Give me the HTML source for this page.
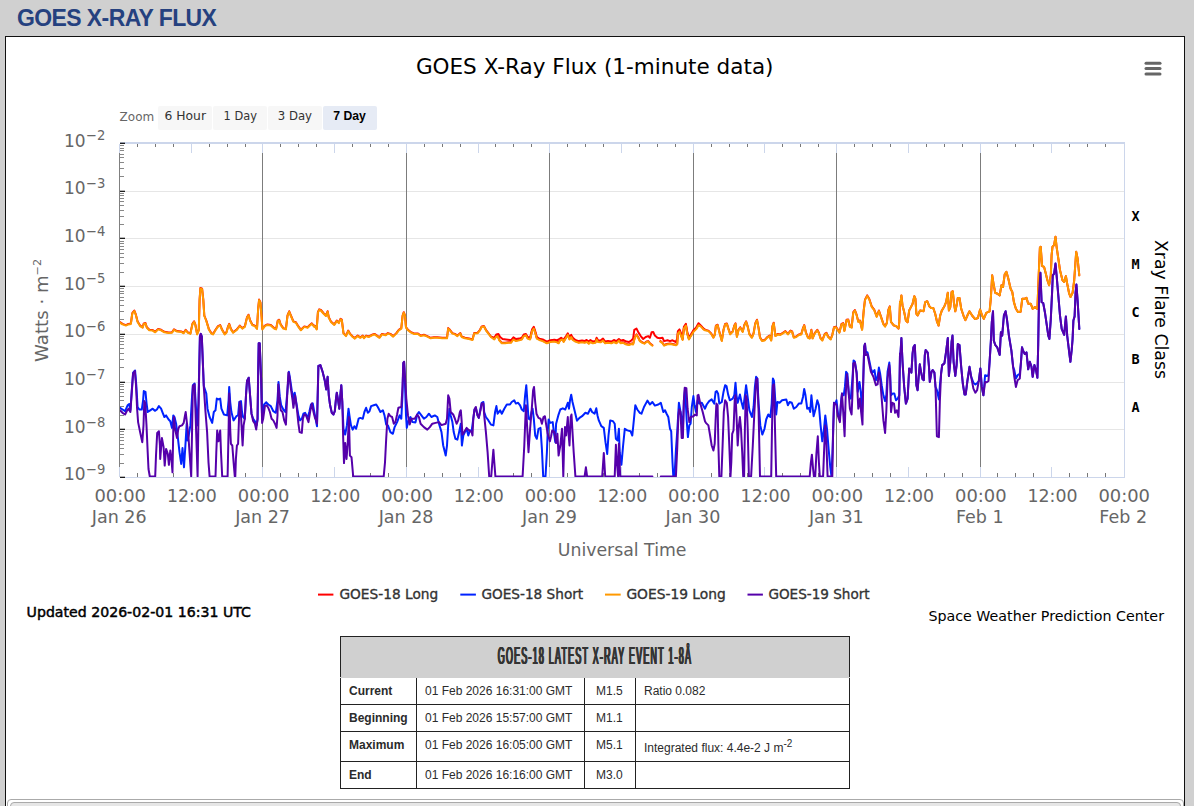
<!DOCTYPE html>
<html lang="en"><head><meta charset="utf-8"><title>GOES X-Ray Flux</title>
<style>
html,body{margin:0;padding:0;}
body{width:1194px;height:806px;overflow:hidden;background:#d0d0d0;position:relative;font-family:"Liberation Sans",Arial,sans-serif;}
h1{position:absolute;left:17px;top:3px;margin:0;font-size:23px;line-height:30px;font-weight:bold;color:#25417f;letter-spacing:-0.6px;white-space:nowrap;}
#panel{position:absolute;left:5px;top:36px;width:1178px;height:800px;background:#fff;border:1px solid #111;}
#tabs{position:absolute;left:6.5px;top:799px;width:1175px;height:40px;border:1px solid #aaa;border-radius:4px;background:#fff;}
#tabs div{position:absolute;left:2px;top:2px;right:2px;height:30px;border:1px solid #aaa;border-radius:4px;background:#e6e6e6;}
table{position:absolute;left:340px;top:636px;width:509px;border-collapse:collapse;font-size:12px;color:#2b2b2b;table-layout:fixed;}
th{position:relative;height:40px;background:#d0d0d0;border:1px solid #222;border-bottom:1px solid #d0d0d0;padding:0;}
th span{position:absolute;left:50%;top:5px;margin-left:0.2px;font-size:23.8px;line-height:28px;font-weight:normal;color:#333;letter-spacing:3.4px;text-shadow:0.8px 0 0 #333,-0.8px 0 0 #333,1.6px 0 0 #333,-1.6px 0 0 #333;transform:translateX(-50%) scaleX(0.372);transform-origin:50% 50%;white-space:nowrap;}
td{border:1px solid #222;padding:6px 0 0 8px;vertical-align:top;white-space:nowrap;line-height:14px;}
td.b{font-weight:bold;}
sup{font-size:10px;line-height:0;}
</style></head><body>
<h1>GOES X-RAY FLUX</h1>
<div id="panel"></div>
<svg width="1194" height="806" viewBox="0 0 1194 806" style="position:absolute;left:0;top:0;font-family:'DejaVu Sans','Liberation Sans',sans-serif">
<text x="594.7" y="73.7" text-anchor="middle" font-size="21.7" fill="#000" textLength="357.6" lengthAdjust="spacingAndGlyphs">GOES X-Ray Flux (1-minute data)</text>
<line x1="1146" y1="63.2" x2="1160" y2="63.2" stroke="#666" stroke-width="3" stroke-linecap="round"/>
<line x1="1146" y1="68.6" x2="1160" y2="68.6" stroke="#666" stroke-width="3" stroke-linecap="round"/>
<line x1="1146" y1="74.0" x2="1160" y2="74.0" stroke="#666" stroke-width="3" stroke-linecap="round"/>
<text x="119.6" y="120.8" font-size="13" fill="#666" textLength="34.6" lengthAdjust="spacingAndGlyphs">Zoom</text>
<rect x="158" y="106" width="54" height="24" rx="2" fill="#f7f7f7"/>
<text x="164.5" y="119.8" font-size="13" fill="#333"  textLength="41.5" lengthAdjust="spacingAndGlyphs">6 Hour</text>
<rect x="213" y="106" width="54" height="24" rx="2" fill="#f7f7f7"/>
<text x="223.6" y="119.8" font-size="13" fill="#333"  textLength="33.3" lengthAdjust="spacingAndGlyphs">1 Day</text>
<rect x="268" y="106" width="54" height="24" rx="2" fill="#f7f7f7"/>
<text x="277.8" y="119.8" font-size="13" fill="#333"  textLength="34.2" lengthAdjust="spacingAndGlyphs">3 Day</text>
<rect x="323" y="106" width="54" height="24" rx="2" fill="#e6ebf5"/>
<text x="333.3" y="119.8" font-size="12.8" fill="#000" font-weight="bold" font-family="Liberation Sans,sans-serif" textLength="32.6" lengthAdjust="spacingAndGlyphs">7 Day</text>
<line x1="120" y1="191.5" x2="1124" y2="191.5" stroke="#e6e6e6" stroke-width="1"/>
<line x1="120" y1="238.5" x2="1124" y2="238.5" stroke="#e6e6e6" stroke-width="1"/>
<line x1="120" y1="286.5" x2="1124" y2="286.5" stroke="#e6e6e6" stroke-width="1"/>
<line x1="120" y1="334.5" x2="1124" y2="334.5" stroke="#e6e6e6" stroke-width="1"/>
<line x1="120" y1="382.5" x2="1124" y2="382.5" stroke="#e6e6e6" stroke-width="1"/>
<line x1="120" y1="429.5" x2="1124" y2="429.5" stroke="#e6e6e6" stroke-width="1"/>
<line x1="1124.5" y1="143" x2="1124.5" y2="477" stroke="#ccd6eb" stroke-width="1"/>
<line x1="262.5" y1="153" x2="262.5" y2="467" stroke="#7c7c7c" stroke-width="1"/>
<line x1="406.5" y1="153" x2="406.5" y2="467" stroke="#7c7c7c" stroke-width="1"/>
<line x1="549.5" y1="153" x2="549.5" y2="467" stroke="#7c7c7c" stroke-width="1"/>
<line x1="693.5" y1="153" x2="693.5" y2="467" stroke="#7c7c7c" stroke-width="1"/>
<line x1="836.5" y1="153" x2="836.5" y2="467" stroke="#7c7c7c" stroke-width="1"/>
<line x1="980.5" y1="153" x2="980.5" y2="467" stroke="#7c7c7c" stroke-width="1"/>
<line x1="119.5" y1="144" x2="119.5" y2="153" stroke="#ccd6eb" stroke-width="1"/>
<line x1="119.5" y1="467" x2="119.5" y2="477" stroke="#ccd6eb" stroke-width="1"/>
<line x1="137.5" y1="144" x2="137.5" y2="147" stroke="#777" stroke-width="1"/>
<line x1="137.5" y1="473" x2="137.5" y2="477" stroke="#777" stroke-width="1"/>
<line x1="155.5" y1="144" x2="155.5" y2="147" stroke="#777" stroke-width="1"/>
<line x1="155.5" y1="473" x2="155.5" y2="477" stroke="#777" stroke-width="1"/>
<line x1="173.5" y1="144" x2="173.5" y2="147" stroke="#777" stroke-width="1"/>
<line x1="173.5" y1="473" x2="173.5" y2="477" stroke="#777" stroke-width="1"/>
<line x1="191.5" y1="144" x2="191.5" y2="153" stroke="#ccd6eb" stroke-width="1"/>
<line x1="191.5" y1="467" x2="191.5" y2="477" stroke="#ccd6eb" stroke-width="1"/>
<line x1="209.5" y1="144" x2="209.5" y2="147" stroke="#777" stroke-width="1"/>
<line x1="209.5" y1="473" x2="209.5" y2="477" stroke="#777" stroke-width="1"/>
<line x1="227.5" y1="144" x2="227.5" y2="147" stroke="#777" stroke-width="1"/>
<line x1="227.5" y1="473" x2="227.5" y2="477" stroke="#777" stroke-width="1"/>
<line x1="245.5" y1="144" x2="245.5" y2="147" stroke="#777" stroke-width="1"/>
<line x1="245.5" y1="473" x2="245.5" y2="477" stroke="#777" stroke-width="1"/>
<line x1="262.5" y1="144" x2="262.5" y2="153" stroke="#ccd6eb" stroke-width="1"/>
<line x1="262.5" y1="467" x2="262.5" y2="477" stroke="#ccd6eb" stroke-width="1"/>
<line x1="280.5" y1="144" x2="280.5" y2="147" stroke="#777" stroke-width="1"/>
<line x1="280.5" y1="473" x2="280.5" y2="477" stroke="#777" stroke-width="1"/>
<line x1="298.5" y1="144" x2="298.5" y2="147" stroke="#777" stroke-width="1"/>
<line x1="298.5" y1="473" x2="298.5" y2="477" stroke="#777" stroke-width="1"/>
<line x1="316.5" y1="144" x2="316.5" y2="147" stroke="#777" stroke-width="1"/>
<line x1="316.5" y1="473" x2="316.5" y2="477" stroke="#777" stroke-width="1"/>
<line x1="334.5" y1="144" x2="334.5" y2="153" stroke="#ccd6eb" stroke-width="1"/>
<line x1="334.5" y1="467" x2="334.5" y2="477" stroke="#ccd6eb" stroke-width="1"/>
<line x1="352.5" y1="144" x2="352.5" y2="147" stroke="#777" stroke-width="1"/>
<line x1="352.5" y1="473" x2="352.5" y2="477" stroke="#777" stroke-width="1"/>
<line x1="370.5" y1="144" x2="370.5" y2="147" stroke="#777" stroke-width="1"/>
<line x1="370.5" y1="473" x2="370.5" y2="477" stroke="#777" stroke-width="1"/>
<line x1="388.5" y1="144" x2="388.5" y2="147" stroke="#777" stroke-width="1"/>
<line x1="388.5" y1="473" x2="388.5" y2="477" stroke="#777" stroke-width="1"/>
<line x1="406.5" y1="144" x2="406.5" y2="153" stroke="#ccd6eb" stroke-width="1"/>
<line x1="406.5" y1="467" x2="406.5" y2="477" stroke="#ccd6eb" stroke-width="1"/>
<line x1="424.5" y1="144" x2="424.5" y2="147" stroke="#777" stroke-width="1"/>
<line x1="424.5" y1="473" x2="424.5" y2="477" stroke="#777" stroke-width="1"/>
<line x1="442.5" y1="144" x2="442.5" y2="147" stroke="#777" stroke-width="1"/>
<line x1="442.5" y1="473" x2="442.5" y2="477" stroke="#777" stroke-width="1"/>
<line x1="460.5" y1="144" x2="460.5" y2="147" stroke="#777" stroke-width="1"/>
<line x1="460.5" y1="473" x2="460.5" y2="477" stroke="#777" stroke-width="1"/>
<line x1="478.5" y1="144" x2="478.5" y2="153" stroke="#ccd6eb" stroke-width="1"/>
<line x1="478.5" y1="467" x2="478.5" y2="477" stroke="#ccd6eb" stroke-width="1"/>
<line x1="495.5" y1="144" x2="495.5" y2="147" stroke="#777" stroke-width="1"/>
<line x1="495.5" y1="473" x2="495.5" y2="477" stroke="#777" stroke-width="1"/>
<line x1="513.5" y1="144" x2="513.5" y2="147" stroke="#777" stroke-width="1"/>
<line x1="513.5" y1="473" x2="513.5" y2="477" stroke="#777" stroke-width="1"/>
<line x1="531.5" y1="144" x2="531.5" y2="147" stroke="#777" stroke-width="1"/>
<line x1="531.5" y1="473" x2="531.5" y2="477" stroke="#777" stroke-width="1"/>
<line x1="549.5" y1="144" x2="549.5" y2="153" stroke="#ccd6eb" stroke-width="1"/>
<line x1="549.5" y1="467" x2="549.5" y2="477" stroke="#ccd6eb" stroke-width="1"/>
<line x1="567.5" y1="144" x2="567.5" y2="147" stroke="#777" stroke-width="1"/>
<line x1="567.5" y1="473" x2="567.5" y2="477" stroke="#777" stroke-width="1"/>
<line x1="585.5" y1="144" x2="585.5" y2="147" stroke="#777" stroke-width="1"/>
<line x1="585.5" y1="473" x2="585.5" y2="477" stroke="#777" stroke-width="1"/>
<line x1="603.5" y1="144" x2="603.5" y2="147" stroke="#777" stroke-width="1"/>
<line x1="603.5" y1="473" x2="603.5" y2="477" stroke="#777" stroke-width="1"/>
<line x1="621.5" y1="144" x2="621.5" y2="153" stroke="#ccd6eb" stroke-width="1"/>
<line x1="621.5" y1="467" x2="621.5" y2="477" stroke="#ccd6eb" stroke-width="1"/>
<line x1="639.5" y1="144" x2="639.5" y2="147" stroke="#777" stroke-width="1"/>
<line x1="639.5" y1="473" x2="639.5" y2="477" stroke="#777" stroke-width="1"/>
<line x1="657.5" y1="144" x2="657.5" y2="147" stroke="#777" stroke-width="1"/>
<line x1="657.5" y1="473" x2="657.5" y2="477" stroke="#777" stroke-width="1"/>
<line x1="675.5" y1="144" x2="675.5" y2="147" stroke="#777" stroke-width="1"/>
<line x1="675.5" y1="473" x2="675.5" y2="477" stroke="#777" stroke-width="1"/>
<line x1="693.5" y1="144" x2="693.5" y2="153" stroke="#ccd6eb" stroke-width="1"/>
<line x1="693.5" y1="467" x2="693.5" y2="477" stroke="#ccd6eb" stroke-width="1"/>
<line x1="711.5" y1="144" x2="711.5" y2="147" stroke="#777" stroke-width="1"/>
<line x1="711.5" y1="473" x2="711.5" y2="477" stroke="#777" stroke-width="1"/>
<line x1="729.5" y1="144" x2="729.5" y2="147" stroke="#777" stroke-width="1"/>
<line x1="729.5" y1="473" x2="729.5" y2="477" stroke="#777" stroke-width="1"/>
<line x1="747.5" y1="144" x2="747.5" y2="147" stroke="#777" stroke-width="1"/>
<line x1="747.5" y1="473" x2="747.5" y2="477" stroke="#777" stroke-width="1"/>
<line x1="764.5" y1="144" x2="764.5" y2="153" stroke="#ccd6eb" stroke-width="1"/>
<line x1="764.5" y1="467" x2="764.5" y2="477" stroke="#ccd6eb" stroke-width="1"/>
<line x1="782.5" y1="144" x2="782.5" y2="147" stroke="#777" stroke-width="1"/>
<line x1="782.5" y1="473" x2="782.5" y2="477" stroke="#777" stroke-width="1"/>
<line x1="800.5" y1="144" x2="800.5" y2="147" stroke="#777" stroke-width="1"/>
<line x1="800.5" y1="473" x2="800.5" y2="477" stroke="#777" stroke-width="1"/>
<line x1="818.5" y1="144" x2="818.5" y2="147" stroke="#777" stroke-width="1"/>
<line x1="818.5" y1="473" x2="818.5" y2="477" stroke="#777" stroke-width="1"/>
<line x1="836.5" y1="144" x2="836.5" y2="153" stroke="#ccd6eb" stroke-width="1"/>
<line x1="836.5" y1="467" x2="836.5" y2="477" stroke="#ccd6eb" stroke-width="1"/>
<line x1="854.5" y1="144" x2="854.5" y2="147" stroke="#777" stroke-width="1"/>
<line x1="854.5" y1="473" x2="854.5" y2="477" stroke="#777" stroke-width="1"/>
<line x1="872.5" y1="144" x2="872.5" y2="147" stroke="#777" stroke-width="1"/>
<line x1="872.5" y1="473" x2="872.5" y2="477" stroke="#777" stroke-width="1"/>
<line x1="890.5" y1="144" x2="890.5" y2="147" stroke="#777" stroke-width="1"/>
<line x1="890.5" y1="473" x2="890.5" y2="477" stroke="#777" stroke-width="1"/>
<line x1="908.5" y1="144" x2="908.5" y2="153" stroke="#ccd6eb" stroke-width="1"/>
<line x1="908.5" y1="467" x2="908.5" y2="477" stroke="#ccd6eb" stroke-width="1"/>
<line x1="926.5" y1="144" x2="926.5" y2="147" stroke="#777" stroke-width="1"/>
<line x1="926.5" y1="473" x2="926.5" y2="477" stroke="#777" stroke-width="1"/>
<line x1="944.5" y1="144" x2="944.5" y2="147" stroke="#777" stroke-width="1"/>
<line x1="944.5" y1="473" x2="944.5" y2="477" stroke="#777" stroke-width="1"/>
<line x1="962.5" y1="144" x2="962.5" y2="147" stroke="#777" stroke-width="1"/>
<line x1="962.5" y1="473" x2="962.5" y2="477" stroke="#777" stroke-width="1"/>
<line x1="980.5" y1="144" x2="980.5" y2="153" stroke="#ccd6eb" stroke-width="1"/>
<line x1="980.5" y1="467" x2="980.5" y2="477" stroke="#ccd6eb" stroke-width="1"/>
<line x1="997.5" y1="144" x2="997.5" y2="147" stroke="#777" stroke-width="1"/>
<line x1="997.5" y1="473" x2="997.5" y2="477" stroke="#777" stroke-width="1"/>
<line x1="1015.5" y1="144" x2="1015.5" y2="147" stroke="#777" stroke-width="1"/>
<line x1="1015.5" y1="473" x2="1015.5" y2="477" stroke="#777" stroke-width="1"/>
<line x1="1033.5" y1="144" x2="1033.5" y2="147" stroke="#777" stroke-width="1"/>
<line x1="1033.5" y1="473" x2="1033.5" y2="477" stroke="#777" stroke-width="1"/>
<line x1="1051.5" y1="144" x2="1051.5" y2="153" stroke="#ccd6eb" stroke-width="1"/>
<line x1="1051.5" y1="467" x2="1051.5" y2="477" stroke="#ccd6eb" stroke-width="1"/>
<line x1="1069.5" y1="144" x2="1069.5" y2="147" stroke="#777" stroke-width="1"/>
<line x1="1069.5" y1="473" x2="1069.5" y2="477" stroke="#777" stroke-width="1"/>
<line x1="1087.5" y1="144" x2="1087.5" y2="147" stroke="#777" stroke-width="1"/>
<line x1="1087.5" y1="473" x2="1087.5" y2="477" stroke="#777" stroke-width="1"/>
<line x1="1105.5" y1="144" x2="1105.5" y2="147" stroke="#777" stroke-width="1"/>
<line x1="1105.5" y1="473" x2="1105.5" y2="477" stroke="#777" stroke-width="1"/>
<rect x="120" y="142" width="1005" height="2" fill="#ccd6eb"/>
<line x1="120" y1="477.5" x2="1125" y2="477.5" stroke="#ccd6eb" stroke-width="1"/>
<line x1="119.5" y1="153" x2="119.5" y2="467" stroke="#808080" stroke-width="1"/>
<line x1="120" y1="143.3" x2="125" y2="143.3" stroke="#000" stroke-width="1.15"/>
<line x1="120" y1="176.5" x2="124" y2="176.5" stroke="#888" stroke-width="1"/>
<line x1="120" y1="168.5" x2="124" y2="168.5" stroke="#888" stroke-width="1"/>
<line x1="120" y1="162.5" x2="124" y2="162.5" stroke="#888" stroke-width="1"/>
<line x1="120" y1="157.5" x2="124" y2="157.5" stroke="#888" stroke-width="1"/>
<line x1="120" y1="154.5" x2="124" y2="154.5" stroke="#888" stroke-width="1"/>
<line x1="120" y1="150.5" x2="124" y2="150.5" stroke="#888" stroke-width="1"/>
<line x1="120" y1="148.5" x2="124" y2="148.5" stroke="#888" stroke-width="1"/>
<line x1="120" y1="145.5" x2="124" y2="145.5" stroke="#888" stroke-width="1"/>
<line x1="120" y1="191.3" x2="125" y2="191.3" stroke="#000" stroke-width="1.15"/>
<line x1="120" y1="224.5" x2="124" y2="224.5" stroke="#888" stroke-width="1"/>
<line x1="120" y1="216.5" x2="124" y2="216.5" stroke="#888" stroke-width="1"/>
<line x1="120" y1="210.5" x2="124" y2="210.5" stroke="#888" stroke-width="1"/>
<line x1="120" y1="205.5" x2="124" y2="205.5" stroke="#888" stroke-width="1"/>
<line x1="120" y1="201.5" x2="124" y2="201.5" stroke="#888" stroke-width="1"/>
<line x1="120" y1="198.5" x2="124" y2="198.5" stroke="#888" stroke-width="1"/>
<line x1="120" y1="195.5" x2="124" y2="195.5" stroke="#888" stroke-width="1"/>
<line x1="120" y1="193.5" x2="124" y2="193.5" stroke="#888" stroke-width="1"/>
<line x1="120" y1="238.3" x2="125" y2="238.3" stroke="#000" stroke-width="1.15"/>
<line x1="120" y1="272.5" x2="124" y2="272.5" stroke="#888" stroke-width="1"/>
<line x1="120" y1="263.5" x2="124" y2="263.5" stroke="#888" stroke-width="1"/>
<line x1="120" y1="257.5" x2="124" y2="257.5" stroke="#888" stroke-width="1"/>
<line x1="120" y1="253.5" x2="124" y2="253.5" stroke="#888" stroke-width="1"/>
<line x1="120" y1="249.5" x2="124" y2="249.5" stroke="#888" stroke-width="1"/>
<line x1="120" y1="246.5" x2="124" y2="246.5" stroke="#888" stroke-width="1"/>
<line x1="120" y1="243.5" x2="124" y2="243.5" stroke="#888" stroke-width="1"/>
<line x1="120" y1="241.5" x2="124" y2="241.5" stroke="#888" stroke-width="1"/>
<line x1="120" y1="286.3" x2="125" y2="286.3" stroke="#000" stroke-width="1.15"/>
<line x1="120" y1="319.5" x2="124" y2="319.5" stroke="#888" stroke-width="1"/>
<line x1="120" y1="311.5" x2="124" y2="311.5" stroke="#888" stroke-width="1"/>
<line x1="120" y1="305.5" x2="124" y2="305.5" stroke="#888" stroke-width="1"/>
<line x1="120" y1="300.5" x2="124" y2="300.5" stroke="#888" stroke-width="1"/>
<line x1="120" y1="297.5" x2="124" y2="297.5" stroke="#888" stroke-width="1"/>
<line x1="120" y1="293.5" x2="124" y2="293.5" stroke="#888" stroke-width="1"/>
<line x1="120" y1="291.5" x2="124" y2="291.5" stroke="#888" stroke-width="1"/>
<line x1="120" y1="288.5" x2="124" y2="288.5" stroke="#888" stroke-width="1"/>
<line x1="120" y1="334.3" x2="125" y2="334.3" stroke="#000" stroke-width="1.15"/>
<line x1="120" y1="367.5" x2="124" y2="367.5" stroke="#888" stroke-width="1"/>
<line x1="120" y1="359.5" x2="124" y2="359.5" stroke="#888" stroke-width="1"/>
<line x1="120" y1="353.5" x2="124" y2="353.5" stroke="#888" stroke-width="1"/>
<line x1="120" y1="348.5" x2="124" y2="348.5" stroke="#888" stroke-width="1"/>
<line x1="120" y1="344.5" x2="124" y2="344.5" stroke="#888" stroke-width="1"/>
<line x1="120" y1="341.5" x2="124" y2="341.5" stroke="#888" stroke-width="1"/>
<line x1="120" y1="338.5" x2="124" y2="338.5" stroke="#888" stroke-width="1"/>
<line x1="120" y1="336.5" x2="124" y2="336.5" stroke="#888" stroke-width="1"/>
<line x1="120" y1="382.3" x2="125" y2="382.3" stroke="#000" stroke-width="1.15"/>
<line x1="120" y1="415.5" x2="124" y2="415.5" stroke="#888" stroke-width="1"/>
<line x1="120" y1="406.5" x2="124" y2="406.5" stroke="#888" stroke-width="1"/>
<line x1="120" y1="400.5" x2="124" y2="400.5" stroke="#888" stroke-width="1"/>
<line x1="120" y1="396.5" x2="124" y2="396.5" stroke="#888" stroke-width="1"/>
<line x1="120" y1="392.5" x2="124" y2="392.5" stroke="#888" stroke-width="1"/>
<line x1="120" y1="389.5" x2="124" y2="389.5" stroke="#888" stroke-width="1"/>
<line x1="120" y1="386.5" x2="124" y2="386.5" stroke="#888" stroke-width="1"/>
<line x1="120" y1="384.5" x2="124" y2="384.5" stroke="#888" stroke-width="1"/>
<line x1="120" y1="429.3" x2="125" y2="429.3" stroke="#000" stroke-width="1.15"/>
<line x1="120" y1="463.5" x2="124" y2="463.5" stroke="#888" stroke-width="1"/>
<line x1="120" y1="454.5" x2="124" y2="454.5" stroke="#888" stroke-width="1"/>
<line x1="120" y1="448.5" x2="124" y2="448.5" stroke="#888" stroke-width="1"/>
<line x1="120" y1="444.5" x2="124" y2="444.5" stroke="#888" stroke-width="1"/>
<line x1="120" y1="440.5" x2="124" y2="440.5" stroke="#888" stroke-width="1"/>
<line x1="120" y1="437.5" x2="124" y2="437.5" stroke="#888" stroke-width="1"/>
<line x1="120" y1="434.5" x2="124" y2="434.5" stroke="#888" stroke-width="1"/>
<line x1="120" y1="431.5" x2="124" y2="431.5" stroke="#888" stroke-width="1"/>
<line x1="120" y1="477.3" x2="125" y2="477.3" stroke="#000" stroke-width="1.15"/>
<text x="85.7" y="146.5" text-anchor="end" font-size="17" fill="#666">10</text>
<text x="86" y="140.3" font-size="14" fill="#666" textLength="19.4" lengthAdjust="spacingAndGlyphs">−2</text>
<text x="85.7" y="194.2" text-anchor="end" font-size="17" fill="#666">10</text>
<text x="86" y="188.0" font-size="14" fill="#666" textLength="19.4" lengthAdjust="spacingAndGlyphs">−3</text>
<text x="85.7" y="241.9" text-anchor="end" font-size="17" fill="#666">10</text>
<text x="86" y="235.7" font-size="14" fill="#666" textLength="19.4" lengthAdjust="spacingAndGlyphs">−4</text>
<text x="85.7" y="289.6" text-anchor="end" font-size="17" fill="#666">10</text>
<text x="86" y="283.4" font-size="14" fill="#666" textLength="19.4" lengthAdjust="spacingAndGlyphs">−5</text>
<text x="85.7" y="337.3" text-anchor="end" font-size="17" fill="#666">10</text>
<text x="86" y="331.1" font-size="14" fill="#666" textLength="19.4" lengthAdjust="spacingAndGlyphs">−6</text>
<text x="85.7" y="385.0" text-anchor="end" font-size="17" fill="#666">10</text>
<text x="86" y="378.8" font-size="14" fill="#666" textLength="19.4" lengthAdjust="spacingAndGlyphs">−7</text>
<text x="85.7" y="432.7" text-anchor="end" font-size="17" fill="#666">10</text>
<text x="86" y="426.5" font-size="14" fill="#666" textLength="19.4" lengthAdjust="spacingAndGlyphs">−8</text>
<text x="85.7" y="480.4" text-anchor="end" font-size="17" fill="#666">10</text>
<text x="86" y="474.2" font-size="14" fill="#666" textLength="19.4" lengthAdjust="spacingAndGlyphs">−9</text>
<g transform="translate(47.6,361.9) rotate(-90)"><text x="0" y="0" font-size="17" fill="#666" textLength="103" lengthAdjust="spacingAndGlyphs">Watts · m<tspan dy="-6.5" font-size="10.5">−2</tspan></text></g>
<text x="1135.5" y="221.2" text-anchor="middle" font-size="13.5" font-weight="bold" font-family="DejaVu Sans Mono,Liberation Mono,monospace" fill="#000">X</text>
<text x="1135.5" y="268.9" text-anchor="middle" font-size="13.5" font-weight="bold" font-family="DejaVu Sans Mono,Liberation Mono,monospace" fill="#000">M</text>
<text x="1135.5" y="316.7" text-anchor="middle" font-size="13.5" font-weight="bold" font-family="DejaVu Sans Mono,Liberation Mono,monospace" fill="#000">C</text>
<text x="1135.5" y="364.3" text-anchor="middle" font-size="13.5" font-weight="bold" font-family="DejaVu Sans Mono,Liberation Mono,monospace" fill="#000">B</text>
<text x="1135.5" y="412.1" text-anchor="middle" font-size="13.5" font-weight="bold" font-family="DejaVu Sans Mono,Liberation Mono,monospace" fill="#000">A</text>
<g transform="translate(1155,240) rotate(90)"><text x="0" y="0" font-size="17.5" fill="#000" textLength="139" lengthAdjust="spacingAndGlyphs">Xray Flare Class</text></g>
<clipPath id="pc"><rect x="120" y="143" width="1004" height="334"/></clipPath>
<g clip-path="url(#pc)" fill="none" stroke-width="2" stroke-linejoin="round" stroke-linecap="round">
<path d="M120.0 322.2 L122.5 323.9 L125.9 325.1 L128.4 323.9 L130.9 323.4 L132.3 313.0 L134.3 310.5 L135.9 314.7 L137.6 321.4 L140.1 325.6 L142.6 327.2 L143.8 323.4 L145.5 323.1 L146.8 327.2 L149.3 329.8 L152.7 330.1 L155.2 331.8 L158.2 328.9 L161.1 329.8 L164.4 331.8 L168.6 332.6 L172.0 332.3 L174.0 329.4 L177.0 331.1 L181.2 331.4 L183.7 332.8 L185.7 329.8 L187.9 332.3 L190.4 333.4 L192.4 323.9 L194.1 321.4 L195.4 324.7 L197.1 333.9 L198.8 329.8 L199.6 299.6 L200.4 287.9 L202.1 288.7 L203.3 299.6 L204.3 315.5 L206.3 320.5 L208.8 328.9 L211.3 333.1 L213.0 333.9 L215.5 329.8 L218.0 326.1 L220.2 325.1 L222.2 329.8 L224.7 333.9 L226.4 332.3 L228.1 326.4 L229.2 323.9 L230.9 328.9 L233.1 332.3 L236.4 329.8 L239.8 325.6 L242.3 328.1 L244.8 326.4 L247.0 317.2 L248.5 314.7 L250.2 320.5 L252.4 324.7 L254.9 325.6 L257.0 328.4 L258.2 308.0 L259.1 299.6 L260.4 302.1 L261.6 316.4 L262.4 328.9 L264.9 325.6 L267.4 324.4 L270.8 325.1 L274.1 328.1 L276.1 328.9 L277.8 320.5 L279.2 319.7 L280.8 324.7 L283.3 328.1 L285.9 328.9 L287.5 315.5 L289.2 311.3 L290.9 315.5 L293.4 321.4 L295.9 322.2 L298.4 326.4 L300.9 329.8 L304.3 326.4 L307.6 327.2 L310.1 324.7 L311.8 323.4 L314.3 326.4 L314.7 325.6 L316.7 328.9 L317.9 312.2 L319.2 309.3 L320.9 310.0 L323.4 313.0 L325.9 315.5 L327.6 311.3 L328.8 317.2 L330.9 321.4 L334.3 324.4 L336.8 320.5 L338.8 322.7 L340.5 318.9 L341.8 319.7 L343.5 333.1 L346.0 335.6 L348.2 330.6 L350.2 333.9 L352.7 336.5 L354.9 338.1 L357.7 335.6 L360.3 337.3 L362.8 335.6 L363.9 337.8 L366.1 335.6 L368.6 336.5 L372.0 334.8 L374.5 333.9 L377.0 335.6 L379.5 337.3 L382.0 333.9 L385.4 334.8 L387.9 333.1 L390.4 333.9 L393.2 336.1 L396.3 333.1 L398.8 329.8 L401.3 328.1 L402.6 315.5 L403.8 312.2 L405.0 315.5 L406.0 327.2 L408.0 329.8 L410.5 331.8 L413.9 333.4 L418.0 333.4 L420.6 335.6 L423.9 334.8 L427.3 336.1 L430.6 337.8 L434.0 337.3 L437.3 337.3 L442.3 337.8 L447.0 337.8 L448.2 328.1 L449.9 329.8 L452.4 333.1 L454.9 333.9 L457.4 335.6 L460.4 333.1 L461.6 336.5 L464.9 337.8 L469.1 338.5 L472.5 339.5 L474.2 333.1 L477.5 332.8 L480.0 329.8 L481.7 326.4 L483.9 326.1 L485.9 329.8 L488.4 333.1 L490.9 336.5 L494.3 339.0 L495.9 336.5 L497.6 335.6 L499.3 339.8 L501.8 342.8 L505.1 342.8 L508.5 342.3 L510.0 342.3 L510.9 342.3 L513.4 339.0 L515.9 340.6 L519.2 339.8 L521.8 339.0 L523.8 335.6 L525.9 334.8 L527.6 338.1 L530.1 339.0 L532.1 330.6 L533.8 328.1 L535.2 332.3 L536.8 338.1 L539.3 339.5 L542.7 340.6 L546.9 342.8 L550.2 341.5 L554.4 341.1 L556.9 341.8 L558.6 342.8 L560.3 339.8 L562.8 339.0 L563.6 341.5 L566.1 337.3 L567.8 334.4 L569.5 339.0 L571.2 336.5 L572.8 339.5 L575.4 341.1 L578.7 342.3 L582.1 341.8 L584.6 342.3 L587.1 341.5 L588.8 343.2 L590.4 341.5 L592.9 342.8 L595.5 342.3 L596.6 339.0 L598.0 341.5 L600.5 341.8 L603.0 340.1 L605.2 342.8 L608.0 342.3 L611.4 342.8 L613.9 341.5 L616.4 342.8 L618.9 340.1 L620.6 342.8 L623.1 342.3 L626.4 344.0 L629.0 344.5 L631.5 343.5 L633.1 344.0 L634.8 337.3 L636.5 334.4 L638.2 337.3 L639.8 340.6 L642.4 342.3 L644.4 343.2 L646.5 341.5 L648.2 341.1 L649.9 343.2 L652.4 345.2 M660.4 341.1 L662.5 342.8 L664.1 345.2 L666.6 344.0 L670.0 343.5 L672.5 344.0 L675.9 344.8 L677.2 344.0 L677.9 333.1 L679.5 331.1 L681.2 335.6 L682.6 339.5 L683.9 328.1 L685.9 325.1 L687.2 333.1 L688.9 339.0 L690.9 335.6 L693.4 331.4 L696.0 328.9 L698.5 324.7 L701.0 326.1 L703.5 328.9 L705.0 329.8 L708.4 330.6 L710.9 333.1 L713.4 337.3 L714.7 334.8 L715.9 325.6 L717.6 324.7 L719.3 331.4 L721.8 340.6 L723.5 329.8 L725.1 323.9 L726.8 323.4 L728.5 328.9 L730.2 333.9 L732.7 331.4 L734.3 325.6 L735.5 323.4 L736.9 336.5 L738.5 329.8 L740.2 327.2 L742.7 331.4 L744.4 324.7 L746.1 321.4 L747.7 326.4 L749.4 333.9 L751.9 337.3 L753.6 333.1 L755.3 323.1 L757.0 319.7 L758.6 328.1 L760.0 337.3 L762.0 340.6 L764.5 340.1 L767.0 337.3 L769.5 335.6 L771.2 340.1 L772.4 326.4 L773.7 322.7 L775.4 335.6 L777.9 333.9 L780.4 334.4 L782.9 332.8 L785.4 331.1 L787.9 333.9 L790.5 330.6 L792.1 331.4 L793.8 337.3 L796.3 336.5 L798.8 334.4 L801.3 333.9 L803.0 328.1 L804.2 325.1 L805.9 332.3 L808.0 337.3 L809.7 338.1 L811.4 329.8 L812.6 338.1 L814.7 333.1 L817.3 329.8 L818.9 332.8 L820.6 338.1 L822.3 340.1 L824.8 333.9 L826.5 332.8 L828.1 336.5 L830.7 339.0 L832.3 334.8 L834.0 327.2 L835.7 326.7 L837.4 328.9 L839.4 332.3 L841.5 323.9 L843.2 323.1 L844.4 330.6 L846.6 319.7 L848.2 319.4 L849.9 326.4 L851.6 327.2 L853.3 312.2 L854.9 310.0 L856.6 314.7 L858.3 321.4 L860.0 320.5 L862.1 329.4 L863.8 309.7 L865.0 299.6 L867.2 295.4 L869.2 298.8 L871.7 306.3 L874.2 309.7 L876.7 316.4 L878.9 310.5 L880.9 316.4 L883.4 323.9 L885.1 326.1 L886.8 323.1 L888.4 309.7 L889.8 306.3 L891.0 321.9 L893.5 325.2 L896.0 326.1 L898.5 328.6 L899.3 321.9 L900.0 301.8 L900.4 303.7 L901.4 295.4 L902.5 305.4 L904.2 312.1 L905.9 320.5 L907.6 322.2 L909.2 310.4 L910.9 307.1 L912.6 303.7 L914.3 296.2 L915.4 298.7 L916.4 313.8 L917.6 315.5 L920.1 310.4 L923.5 311.3 L925.2 302.1 L927.2 301.2 L929.3 306.2 L931.0 307.9 L933.2 307.9 L935.2 313.8 L936.9 321.3 L938.6 325.5 L940.2 315.5 L941.9 310.4 L944.4 306.2 L946.1 302.1 L947.8 292.8 L948.9 310.4 L950.3 307.1 L951.6 292.0 L952.8 291.2 L954.0 303.7 L955.3 311.3 L956.6 305.4 L957.8 297.9 L959.5 297.9 L961.2 308.8 L963.7 316.3 L965.4 320.1 L967.4 315.5 L969.5 311.3 L972.1 315.5 L975.1 319.1 L977.9 318.0 L980.1 309.6 L982.1 315.5 L983.8 318.8 L986.3 312.9 L989.6 311.3 L990.8 298.7 L992.2 275.3 L993.5 283.6 L995.2 292.8 L997.5 293.7 L999.7 295.4 L1001.4 285.3 L1003.0 287.0 L1004.7 274.4 L1006.4 271.9 L1008.1 277.8 L1010.6 288.7 L1012.3 292.0 L1013.9 302.1 L1015.9 308.8 L1018.1 312.1 L1020.6 311.8 L1022.3 298.7 L1024.8 298.7 L1026.5 297.9 L1028.2 303.7 L1030.7 303.7 L1032.7 308.8 L1034.9 307.1 L1037.4 308.8 L1038.7 275.3 L1039.9 247.6 L1040.7 246.8 L1042.1 266.0 L1044.1 266.9 L1045.8 273.6 L1047.4 280.3 L1049.1 285.3 L1050.8 275.3 L1051.6 255.2 L1052.5 246.8 L1054.1 245.1 L1055.5 236.7 L1056.6 246.8 L1058.3 258.5 L1060.0 270.2 L1062.5 280.3 L1064.2 282.0 L1065.9 276.1 L1067.5 285.3 L1069.2 293.7 L1070.5 297.0 L1072.6 292.8 L1074.2 280.3 L1075.6 260.2 L1076.2 251.8 L1077.6 258.5 L1079.3 275.3" stroke="#ff0000"/>
<path d="M490.9 336.6 L494.3 337.8 L496.3 334.4 L498.4 333.9 L500.1 337.0 L502.6 339.0 L506.0 339.5 L510.0 340.0 L510.9 340.3 L513.4 337.3 L515.9 339.0 L519.2 338.6 L521.8 337.8 L523.8 334.4 L525.9 333.9 L527.6 337.0 L530.1 337.8 L532.1 329.4 L533.8 326.9 L535.2 331.1 L536.8 337.0 L539.3 338.6 L542.7 339.5 L546.9 341.6 L550.2 340.3 L554.4 339.8 L556.9 340.3 L558.6 339.5 L561.1 337.8 L563.6 339.5 L566.1 336.1 L567.8 333.3 L569.5 337.0 L571.2 334.9 L572.8 337.8 L575.4 340.0 L578.7 341.1 L582.1 340.6 L584.6 341.1 L586.6 340.0 L588.8 341.6 L590.4 340.0 L592.9 341.6 L595.5 341.1 L596.6 337.8 L598.0 340.3 L600.5 340.6 L603.0 338.6 L605.2 341.6 L608.0 341.1 L611.4 341.6 L613.9 340.0 L616.4 341.1 L618.9 339.0 L620.6 340.6 L623.1 340.0 L626.4 341.6 L629.0 342.0 L631.5 340.3 L633.1 338.6 L634.3 329.9 L636.5 328.6 L638.2 331.9 L640.7 336.1 L643.2 339.0 L645.7 337.0 L648.2 336.1 L649.9 337.8 L651.6 332.3 L653.2 331.9 L654.9 335.6 L657.4 337.8 L659.9 338.3 L662.5 337.8 L664.1 341.1 L667.5 340.3 L670.0 341.1 L672.5 340.3 L675.9 342.0 L677.2 338.6 L677.9 331.1 L679.5 329.4 L681.2 333.6 L682.6 338.6 L683.9 326.9 L685.9 323.9 L687.2 331.9 L688.9 337.8 L690.9 334.4 L693.4 330.3 L696.0 327.7 L698.5 323.2 L701.0 325.6 L703.5 328.6 L705.0 329.7" stroke="#ff0000"/>
<path d="M120.0 407.8 L122.5 409.5 L125.1 411.2 L127.6 405.3 L129.2 404.0 L130.4 410.3 L131.8 390.2 L133.1 372.6 L135.1 370.5 L136.3 385.2 L137.6 407.0 L139.3 409.5 L141.8 409.5 L143.1 400.3 L143.8 391.1 L145.5 391.9 L146.5 402.8 L147.7 412.0 L150.2 410.3 L152.7 408.7 L154.9 410.8 L156.9 409.5 L158.9 406.1 L161.1 408.7 L162.7 412.8 L164.4 417.0 L166.1 415.4 L168.6 419.5 L170.3 421.2 L172.0 427.9 L173.3 415.4 L174.5 417.0 L176.1 423.7 L177.8 437.1 L179.5 452.2 L181.2 463.9 L182.5 448.0 L184.0 467.3 L185.4 445.5 L186.7 423.7 L187.4 440.5 L188.7 435.5 L190.4 425.4 L192.1 395.3 L192.9 385.2 L194.6 383.5 L195.7 403.6 L197.1 425.4 L198.4 403.6 L199.9 336.6 L200.8 333.9 L201.8 336.6 L203.8 386.0 L206.3 393.6 L207.5 408.7 L209.6 417.0 L212.2 422.9 L213.8 412.0 L215.5 410.3 L216.8 398.6 L218.5 399.4 L220.2 398.6 L221.4 408.7 L223.9 414.5 L227.2 415.4 L228.6 400.3 L229.2 386.9 L230.2 402.0 L231.4 412.0 L233.6 420.4 L236.4 416.2 L238.1 415.4 L239.3 402.0 L241.0 401.1 L242.0 412.0 L243.1 417.0 L244.8 418.7 L246.0 395.3 L247.0 381.0 L248.7 377.7 L249.8 391.9 L251.5 413.7 L253.2 418.7 L254.9 421.2 L256.5 425.4 L257.7 418.7 L258.2 370.1 L258.7 343.3 L259.7 343.3 L261.1 378.5 L262.1 418.7 L264.1 404.5 L266.3 402.3 L268.3 404.5 L270.8 406.1 L273.3 411.2 L275.8 412.8 L277.5 400.3 L278.5 381.9 L279.8 396.9 L281.2 405.3 L283.3 409.5 L285.5 412.0 L287.2 393.6 L288.9 371.8 L290.0 378.5 L291.7 390.2 L293.4 398.6 L294.7 392.7 L296.2 402.0 L298.4 415.4 L300.1 420.4 L301.8 418.7 L303.4 413.7 L305.1 412.8 L307.6 417.9 L309.3 412.0 L311.0 404.5 L312.7 403.3 L314.3 412.0 L317.0 426.2 L317.9 386.9 L318.4 365.9 L320.4 365.1 L322.6 371.8 L324.7 380.2 L326.2 389.4 L327.6 376.8 L328.8 395.3 L330.1 405.3 L331.8 412.8 L333.5 414.5 L334.8 411.2 L336.0 398.6 L336.8 392.7 L338.1 400.3 L339.3 408.7 L340.5 393.6 L341.3 385.2 L342.3 402.0 L343.5 428.8 L345.2 434.6 L346.9 425.4 L348.5 408.7 L349.9 418.7 L351.0 425.4 L352.7 429.6 L354.4 426.2 L356.1 428.8 L358.6 418.7 L360.3 417.9 L362.8 418.7 L364.4 412.0 L366.1 407.8 L367.8 412.8 L369.5 411.2 L371.1 406.1 L373.7 405.3 L376.2 404.5 L377.8 407.0 L380.4 412.0 L382.9 410.3 L384.5 415.4 L386.2 424.6 L387.9 425.4 L390.4 432.1 L392.9 433.8 L394.6 427.1 L397.1 422.1 L399.6 415.4 L401.3 418.7 L402.5 395.3 L403.3 363.4 L404.1 361.8 L405.1 386.9 L406.0 415.4 L406.8 427.9 L408.5 420.4 L410.5 417.0 L412.5 422.1 L415.5 422.4 L417.2 414.5 L418.9 412.0 L421.4 415.4 L423.9 418.7 L426.4 417.0 L428.9 413.7 L431.4 417.0 L434.8 415.4 L437.3 417.0 L439.0 423.7 L441.5 432.1 L443.2 445.5 L445.7 455.6 L447.0 445.5 L448.2 425.4 L449.4 408.7 L450.7 415.4 L452.4 422.1 L453.7 432.1 L455.4 438.8 L457.4 439.6 L459.1 432.1 L460.8 423.7 L461.9 445.5 L463.3 435.5 L464.9 432.1 L466.6 428.8 L468.3 435.5 L470.0 430.4 L471.6 431.3 L473.3 418.7 L474.5 409.5 L475.8 407.8 L477.5 415.4 L478.8 417.9 L480.5 408.7 L481.7 402.8 L483.4 402.0 L484.2 412.0 L485.9 417.0 L488.4 420.4 L490.9 424.6 L493.4 425.4 L495.1 412.0 L496.4 406.1 L497.6 413.7 L500.1 410.3 L501.8 413.7 L504.3 408.7 L506.8 404.5 L510.0 404.5 L511.7 402.0 L514.2 400.3 L515.9 403.6 L518.1 402.8 L520.1 405.3 L521.8 409.5 L523.8 411.2 L525.1 395.3 L526.3 385.2 L527.3 400.3 L528.5 418.7 L530.1 419.5 L531.5 412.0 L532.6 408.7 L533.8 418.7 L535.2 435.5 L536.8 438.8 L538.5 428.8 L540.5 427.9 L541.9 448.9 L543.2 476.5 L545.5 476.5 L546.9 452.2 L547.7 432.1 L548.6 419.5 L550.2 422.9 L552.7 422.1 L553.9 432.1 L555.3 442.2 L556.1 423.7 L558.3 415.4 L560.3 409.5 L562.8 408.3 L565.3 409.5 L567.8 402.8 L569.0 408.7 L570.0 400.3 L571.2 394.7 L572.5 402.0 L574.5 410.3 L577.0 420.7 L579.5 417.9 L582.1 416.2 L585.4 412.8 L587.9 413.7 L590.4 408.7 L592.1 412.0 L594.6 413.7 L596.3 408.3 L597.5 415.4 L598.8 420.4 L601.3 426.2 L603.8 427.9 L605.5 442.2 L607.2 453.9 L608.5 435.5 L610.2 420.4 L613.0 421.2 L614.7 423.7 L615.9 438.8 L617.6 440.5 L618.9 428.8 L619.7 452.2 L621.4 464.8 L623.1 445.5 L624.8 428.8 L627.3 430.4 L630.6 431.3 L632.3 435.5 L634.0 418.7 L635.3 405.3 L637.3 409.5 L639.8 412.8 L641.5 413.7 L644.0 407.0 L647.4 400.6 L649.9 404.5 L652.4 402.0 L654.9 405.6 L658.3 404.5 L660.8 402.8 L663.3 412.0 L665.0 410.3 L666.6 413.7 L668.3 417.0 L670.0 428.8 L671.2 431.3 L672.5 462.3 L673.3 476.5 L674.5 476.5 L675.9 450.5 L677.2 432.1 L678.9 402.8 L680.0 408.7 L681.7 418.7 L682.9 428.8 L683.9 400.3 L685.1 388.6 L686.7 420.4 L687.9 437.1 L689.3 425.4 L690.6 423.7 L691.8 407.0 L693.4 396.1 L694.6 405.3 L696.0 412.0 L697.6 400.3 L699.3 403.6 L701.8 402.8 L705.0 408.7 L706.7 404.5 L709.2 401.1 L711.7 399.4 L714.2 403.6 L715.6 391.9 L716.8 391.1 L718.1 393.6 L719.3 403.6 L721.8 402.0 L723.5 391.9 L725.1 385.2 L726.5 386.0 L728.1 394.4 L729.8 400.3 L732.7 398.6 L734.3 395.3 L735.5 382.7 L736.5 395.3 L737.7 402.8 L739.9 394.4 L741.5 402.0 L743.2 408.7 L744.9 395.3 L746.1 385.2 L747.2 393.6 L749.4 410.3 L751.9 417.0 L753.6 407.0 L754.9 386.9 L756.1 376.8 L757.3 378.5 L758.6 403.6 L760.3 425.4 L762.3 434.6 L764.5 428.8 L766.2 419.5 L768.3 414.5 L770.4 417.0 L771.7 403.6 L772.9 378.5 L774.0 381.0 L775.4 402.0 L776.2 414.5 L777.4 402.0 L779.6 402.8 L782.1 400.3 L786.3 399.4 L787.9 405.3 L789.6 402.0 L791.8 402.8 L793.8 408.7 L796.3 407.0 L798.8 403.6 L801.3 403.6 L803.0 396.9 L804.2 388.9 L805.5 395.3 L807.2 408.7 L808.9 407.8 L810.2 412.0 L811.4 395.3 L812.6 407.0 L813.6 416.2 L815.6 408.7 L817.3 400.3 L818.9 405.3 L820.6 425.4 L822.3 441.3 L824.0 428.8 L825.3 415.4 L827.0 428.8 L828.6 448.9 L830.3 467.3 L831.5 476.5 L832.7 445.5 L834.0 402.8 L835.3 403.6 L836.5 400.3 L838.2 415.4 L839.9 418.7 L841.0 402.0 L842.0 393.6 L843.7 395.3 L844.9 386.9 L846.1 371.8 L847.4 373.5 L849.1 396.9 L850.8 398.6 L852.4 378.5 L853.6 360.4 L854.9 361.8 L856.6 371.8 L857.8 391.9 L859.5 381.9 L860.8 391.9 L862.1 412.0 L863.3 378.5 L864.2 346.7 L865.0 343.7 L865.8 351.7 L867.5 352.5 L869.2 360.1 L870.9 368.5 L872.5 372.6 L874.5 370.1 L875.9 380.2 L877.6 376.8 L878.9 367.6 L880.1 373.5 L881.7 385.2 L883.4 395.3 L885.1 401.1 L886.3 395.3 L887.6 371.8 L889.3 362.6 L890.1 373.5 L891.0 395.3 L892.6 393.6 L894.3 393.6 L896.0 400.3 L897.7 398.6 L899.3 395.3 L900.0 353.4 L900.5 353.4 L901.4 338.1 L902.5 361.8 L904.2 386.9 L905.9 403.6 L907.6 398.6 L909.2 368.5 L910.4 370.1 L911.4 372.6 L912.6 353.4 L913.4 347.3 L914.8 345.0 L915.4 358.4 L916.4 385.2 L917.6 390.2 L918.8 375.2 L919.8 364.3 L921.0 371.8 L922.6 379.3 L923.8 380.2 L924.8 355.1 L925.7 350.0 L927.7 352.5 L929.0 366.8 L929.8 381.9 L931.5 371.8 L932.7 370.1 L934.4 372.6 L935.5 386.9 L936.9 390.2 L938.9 399.4 L939.9 385.2 L941.1 373.5 L942.2 365.1 L944.4 363.4 L946.1 351.7 L947.8 338.1 L948.9 376.0 L950.3 361.8 L951.6 341.6 L952.5 335.6 L953.6 361.8 L955.3 376.0 L956.6 365.1 L957.8 344.0 L959.5 345.0 L961.2 366.8 L962.8 383.5 L964.5 394.4 L965.7 394.4 L967.4 381.0 L969.5 366.8 L971.2 376.8 L973.4 382.7 L975.4 384.4 L977.1 383.2 L978.8 381.0 L980.4 368.5 L981.8 386.9 L983.4 395.3 L985.1 375.2 L986.8 376.0 L988.5 375.2 L989.6 361.8 L990.8 342.3 L991.8 322.2 L993.0 311.3 L993.8 340.6 L995.2 344.8 L997.2 347.3 L999.7 354.9 L1000.9 332.3 L1002.2 335.6 L1003.9 315.5 L1005.6 311.3 L1006.9 318.9 L1008.9 335.6 L1011.4 350.7 L1013.1 366.8 L1014.3 370.1 L1015.9 378.5 L1017.6 375.2 L1019.8 373.5 L1021.0 361.8 L1022.0 347.3 L1023.1 350.7 L1024.8 354.0 L1026.5 352.4 L1028.2 369.3 L1029.8 361.8 L1031.5 366.8 L1032.7 376.8 L1034.4 365.1 L1036.0 370.1 L1037.4 377.7 L1038.2 345.0 L1039.1 292.1 L1040.4 272.8 L1041.6 302.1 L1043.2 303.0 L1044.9 312.2 L1046.6 323.9 L1048.3 335.6 L1049.4 339.0 L1050.8 318.9 L1052.1 292.1 L1052.8 275.3 L1054.1 273.6 L1055.5 263.6 L1056.6 275.3 L1058.3 295.4 L1060.0 315.5 L1061.7 328.9 L1064.2 334.8 L1065.0 325.6 L1065.9 316.4 L1067.2 335.6 L1069.2 352.4 L1070.4 361.8 L1071.7 350.0 L1072.6 339.0 L1073.4 320.5 L1074.6 316.4 L1075.6 292.1 L1076.4 284.5 L1077.6 300.4 L1079.3 328.9" stroke="#0022ff"/>
<path d="M120.0 322.7 L122.5 324.4 L125.9 325.6 L128.4 324.4 L130.9 323.9 L132.3 313.5 L134.3 311.0 L135.9 315.2 L137.6 321.9 L140.1 326.1 L142.6 327.7 L143.8 323.9 L145.5 323.6 L146.8 327.7 L149.3 330.3 L152.7 330.6 L155.2 332.3 L158.2 329.4 L161.1 330.3 L164.4 332.3 L168.6 333.1 L172.0 332.8 L174.0 329.9 L177.0 331.6 L181.2 331.9 L183.7 333.3 L185.7 330.3 L187.9 332.8 L190.4 333.9 L192.4 324.4 L194.1 321.9 L195.4 325.2 L197.1 334.4 L198.8 330.3 L199.6 300.1 L200.4 288.4 L202.1 289.2 L203.3 300.1 L204.3 316.0 L206.3 321.0 L208.8 329.4 L211.3 333.6 L213.0 334.4 L215.5 330.3 L218.0 326.6 L220.2 325.6 L222.2 330.3 L224.7 334.4 L226.4 332.8 L228.1 326.9 L229.2 324.4 L230.9 329.4 L233.1 332.8 L236.4 330.3 L239.8 326.1 L242.3 328.6 L244.8 326.9 L247.0 317.7 L248.5 315.2 L250.2 321.0 L252.4 325.2 L254.9 326.1 L257.0 328.9 L258.2 308.5 L259.1 300.1 L260.4 302.6 L261.6 316.9 L262.4 329.4 L264.9 326.1 L267.4 324.9 L270.8 325.6 L274.1 328.6 L276.1 329.4 L277.8 321.0 L279.2 320.2 L280.8 325.2 L283.3 328.6 L285.9 329.4 L287.5 316.0 L289.2 311.8 L290.9 316.0 L293.4 321.9 L295.9 322.7 L298.4 326.9 L300.9 330.3 L304.3 326.9 L307.6 327.7 L310.1 325.2 L311.8 323.9 L314.3 326.9 L314.7 326.1 L316.7 329.4 L317.9 312.7 L319.2 309.8 L320.9 310.5 L323.4 313.5 L325.9 316.0 L327.6 311.8 L328.8 317.7 L330.9 321.9 L334.3 324.9 L336.8 321.0 L338.8 323.2 L340.5 319.4 L341.8 320.2 L343.5 333.6 L346.0 336.1 L348.2 331.1 L350.2 334.4 L352.7 337.0 L354.9 338.6 L357.7 336.1 L360.3 337.8 L362.8 336.1 L363.9 338.3 L366.1 336.1 L368.6 337.0 L372.0 335.3 L374.5 334.4 L377.0 336.1 L379.5 337.8 L382.0 334.4 L385.4 335.3 L387.9 333.6 L390.4 334.4 L393.2 336.6 L396.3 333.6 L398.8 330.3 L401.3 328.6 L402.6 316.0 L403.8 312.7 L405.0 316.0 L406.0 327.7 L408.0 330.3 L410.5 332.3 L413.9 333.9 L418.0 333.9 L420.6 336.1 L423.9 335.3 L427.3 336.6 L430.6 338.3 L434.0 337.8 L437.3 337.8 L442.3 338.3 L447.0 338.3 L448.2 328.6 L449.9 330.3 L452.4 333.6 L454.9 334.4 L457.4 336.1 L460.4 333.6 L461.6 337.0 L464.9 338.3 L469.1 339.0 L472.5 340.0 L474.2 333.6 L477.5 333.3 L480.0 330.3 L481.7 326.9 L483.9 326.6 L485.9 330.3 L488.4 333.6 L490.9 337.0 L494.3 339.5 L495.9 337.0 L497.6 336.1 L499.3 340.3 L501.8 343.3 L505.1 343.3 L508.5 342.8 L510.0 342.8 L510.9 342.8 L513.4 339.5 L515.9 341.1 L519.2 340.3 L521.8 339.5 L523.8 336.1 L525.9 335.3 L527.6 338.6 L530.1 339.5 L532.1 331.1 L533.8 328.6 L535.2 332.8 L536.8 338.6 L539.3 340.0 L542.7 341.1 L546.9 343.3 L550.2 342.0 L554.4 341.6 L556.9 342.3 L558.6 343.3 L560.3 340.3 L562.8 339.5 L563.6 342.0 L566.1 337.8 L567.8 334.9 L569.5 339.5 L571.2 337.0 L572.8 340.0 L575.4 341.6 L578.7 342.8 L582.1 342.3 L584.6 342.8 L587.1 342.0 L588.8 343.7 L590.4 342.0 L592.9 343.3 L595.5 342.8 L596.6 339.5 L598.0 342.0 L600.5 342.3 L603.0 340.6 L605.2 343.3 L608.0 342.8 L611.4 343.3 L613.9 342.0 L616.4 343.3 L618.9 340.6 L620.6 343.3 L623.1 342.8 L626.4 344.5 L629.0 345.0 L631.5 344.0 L633.1 344.5 L634.8 337.8 L636.5 334.9 L638.2 337.8 L639.8 341.1 L642.4 342.8 L644.4 343.7 L646.5 342.0 L648.2 341.6 L649.9 343.7 L652.4 345.7 M660.4 341.6 L662.5 343.3 L664.1 345.7 L666.6 344.5 L670.0 344.0 L672.5 344.5 L675.9 345.3 L677.2 344.5 L677.9 333.6 L679.5 331.6 L681.2 336.1 L682.6 340.0 L683.9 328.6 L685.9 325.6 L687.2 333.6 L688.9 339.5 L690.9 336.1 L693.4 331.9 L696.0 329.4 L698.5 325.2 L701.0 326.6 L703.5 329.4 L705.0 330.3 L708.4 331.1 L710.9 333.6 L713.4 337.8 L714.7 335.3 L715.9 326.1 L717.6 325.2 L719.3 331.9 L721.8 341.1 L723.5 330.3 L725.1 324.4 L726.8 323.9 L728.5 329.4 L730.2 334.4 L732.7 331.9 L734.3 326.1 L735.5 323.9 L736.9 337.0 L738.5 330.3 L740.2 327.7 L742.7 331.9 L744.4 325.2 L746.1 321.9 L747.7 326.9 L749.4 334.4 L751.9 337.8 L753.6 333.6 L755.3 323.6 L757.0 320.2 L758.6 328.6 L760.0 337.8 L762.0 341.1 L764.5 340.6 L767.0 337.8 L769.5 336.1 L771.2 340.6 L772.4 326.9 L773.7 323.2 L775.4 336.1 L777.9 334.4 L780.4 334.9 L782.9 333.3 L785.4 331.6 L787.9 334.4 L790.5 331.1 L792.1 331.9 L793.8 337.8 L796.3 337.0 L798.8 334.9 L801.3 334.4 L803.0 328.6 L804.2 325.6 L805.9 332.8 L808.0 337.8 L809.7 338.6 L811.4 330.3 L812.6 338.6 L814.7 333.6 L817.3 330.3 L818.9 333.3 L820.6 338.6 L822.3 340.6 L824.8 334.4 L826.5 333.3 L828.1 337.0 L830.7 339.5 L832.3 335.3 L834.0 327.7 L835.7 327.2 L837.4 329.4 L839.4 332.8 L841.5 324.4 L843.2 323.6 L844.4 331.1 L846.6 320.2 L848.2 319.9 L849.9 326.9 L851.6 327.7 L853.3 312.7 L854.9 310.5 L856.6 315.2 L858.3 321.9 L860.0 321.0 L862.1 329.9 L863.8 310.2 L865.0 300.1 L867.2 295.9 L869.2 299.3 L871.7 306.8 L874.2 310.2 L876.7 316.9 L878.9 311.0 L880.9 316.9 L883.4 324.4 L885.1 326.6 L886.8 323.6 L888.4 310.2 L889.8 306.8 L891.0 321.9 L893.5 325.2 L896.0 326.1 L898.5 328.6 L899.3 321.9 L900.0 301.8 L900.4 303.7 L901.4 295.4 L902.5 305.4 L904.2 312.1 L905.9 320.5 L907.6 322.2 L909.2 310.4 L910.9 307.1 L912.6 303.7 L914.3 296.2 L915.4 298.7 L916.4 313.8 L917.6 315.5 L920.1 310.4 L923.5 311.3 L925.2 302.1 L927.2 301.2 L929.3 306.2 L931.0 307.9 L933.2 307.9 L935.2 313.8 L936.9 321.3 L938.6 325.5 L940.2 315.5 L941.9 310.4 L944.4 306.2 L946.1 302.1 L947.8 292.8 L948.9 310.4 L950.3 307.1 L951.6 292.0 L952.8 291.2 L954.0 303.7 L955.3 311.3 L956.6 305.4 L957.8 297.9 L959.5 297.9 L961.2 308.8 L963.7 316.3 L965.4 320.1 L967.4 315.5 L969.5 311.3 L972.1 315.5 L975.1 319.1 L977.9 318.0 L980.1 309.6 L982.1 315.5 L983.8 318.8 L986.3 312.9 L989.6 311.3 L990.8 298.7 L992.2 275.3 L993.5 283.6 L995.2 292.8 L997.5 293.7 L999.7 295.4 L1001.4 285.3 L1003.0 287.0 L1004.7 274.4 L1006.4 271.9 L1008.1 277.8 L1010.6 288.7 L1012.3 292.0 L1013.9 302.1 L1015.9 308.8 L1018.1 312.1 L1020.6 311.8 L1022.3 298.7 L1024.8 298.7 L1026.5 297.9 L1028.2 303.7 L1030.7 303.7 L1032.7 308.8 L1034.9 307.1 L1037.4 308.8 L1038.7 275.3 L1039.9 247.6 L1040.7 246.8 L1042.1 266.0 L1044.1 266.9 L1045.8 273.6 L1047.4 280.3 L1049.1 285.3 L1050.8 275.3 L1051.6 255.2 L1052.5 246.8 L1054.1 245.1 L1055.5 236.7 L1056.6 246.8 L1058.3 258.5 L1060.0 270.2 L1062.5 280.3 L1064.2 282.0 L1065.9 276.1 L1067.5 285.3 L1069.2 293.7 L1070.5 297.0 L1072.6 292.8 L1074.2 280.3 L1075.6 260.2 L1076.2 251.8 L1077.6 258.5 L1079.3 275.3" stroke="#ff9900"/>
<path d="M120.0 410.3 L122.5 412.8 L125.1 414.5 L126.7 411.2 L128.4 408.7 L130.4 412.0 L131.8 391.9 L133.1 373.5 L134.8 371.0 L135.9 383.5 L137.1 408.7 L138.1 422.1 L140.1 432.1 L142.3 442.2 L143.5 425.4 L144.3 401.1 L145.2 402.8 L146.5 425.4 L147.7 452.2 L148.5 469.0 L149.8 476.5 L155.2 476.5 L156.0 455.6 L157.2 432.9 L158.9 431.3 L159.9 445.5 L160.2 458.9 L161.9 438.0 L163.6 447.2 L164.7 465.6 L166.1 448.9 L167.8 453.9 L168.9 464.8 L170.3 450.5 L171.4 458.9 L172.5 472.3 L173.3 428.8 L174.0 417.0 L175.0 428.8 L177.0 438.0 L178.3 428.8 L179.5 426.2 L182.0 425.4 L183.7 422.9 L185.0 415.4 L185.7 412.0 L187.0 423.7 L188.4 435.5 L189.5 452.2 L191.2 476.5 L192.1 428.8 L192.9 386.0 L194.6 384.4 L195.4 408.7 L196.7 448.9 L197.6 476.5 L198.8 395.3 L199.9 336.6 L200.8 333.9 L201.8 336.6 L203.8 386.9 L205.5 412.0 L207.1 432.1 L208.5 462.3 L209.6 476.5 L215.5 476.5 L216.3 452.2 L217.2 430.4 L218.5 441.3 L220.2 430.4 L221.0 452.2 L222.2 476.5 L227.6 476.5 L228.6 428.8 L229.2 393.6 L230.2 428.8 L230.9 443.8 L232.3 445.5 L233.6 462.3 L234.8 476.5 L235.3 476.5 L235.9 458.9 L236.9 445.5 L238.1 443.8 L239.0 418.7 L239.8 402.0 L240.6 407.0 L241.5 425.4 L242.6 445.5 L243.6 425.4 L244.8 418.7 L246.0 395.3 L247.0 381.0 L248.7 377.7 L249.8 391.9 L251.5 413.7 L253.2 421.2 L254.9 423.7 L256.2 429.6 L257.4 420.4 L258.2 370.1 L258.7 343.3 L259.7 343.3 L261.1 378.5 L262.1 422.9 L263.2 418.7 L264.9 406.1 L266.6 405.3 L268.3 407.8 L269.9 412.0 L271.6 418.7 L273.3 420.4 L275.0 423.7 L276.6 427.9 L277.5 415.4 L278.3 384.4 L279.5 400.3 L280.8 410.3 L282.5 412.0 L284.2 420.4 L285.9 424.6 L287.2 395.3 L288.4 372.6 L289.5 376.8 L290.9 388.6 L292.6 400.3 L293.4 407.8 L295.1 395.3 L296.7 407.0 L298.4 423.7 L299.6 432.1 L301.8 432.9 L302.9 418.7 L304.3 414.5 L306.0 415.4 L308.5 422.1 L310.1 412.0 L311.8 403.6 L313.5 412.0 L315.0 417.9 L315.9 419.5 L317.0 423.7 L317.9 386.9 L318.4 365.9 L320.4 365.1 L322.6 371.8 L324.7 380.2 L326.2 389.4 L327.6 376.8 L328.8 395.3 L330.1 405.3 L331.8 412.8 L333.5 414.5 L334.8 411.2 L336.0 398.6 L336.8 392.7 L338.1 400.3 L339.3 408.7 L340.5 393.6 L341.3 385.2 L342.3 402.0 L343.2 438.8 L344.0 463.1 L345.2 443.0 L346.5 458.9 L347.7 443.8 L348.9 417.0 L349.9 455.6 L351.5 457.2 L353.2 476.5 L383.7 476.5 L385.0 462.3 L386.2 438.8 L387.4 418.7 L388.7 413.7 L390.4 416.2 L392.1 417.0 L393.8 423.7 L395.4 422.1 L397.1 414.5 L398.4 407.8 L401.3 407.0 L402.5 386.9 L403.3 362.6 L404.1 361.8 L405.1 378.5 L406.3 398.6 L408.0 415.4 L409.7 424.6 L411.3 418.7 L414.7 418.7 L417.2 414.5 L418.9 417.0 L420.6 423.7 L423.9 427.1 L427.3 429.6 L429.8 427.1 L432.3 423.7 L435.6 422.9 L439.0 422.1 L441.5 425.1 L445.7 423.7 L447.0 418.7 L448.2 395.3 L449.4 398.6 L450.7 412.0 L453.2 414.5 L454.9 418.7 L456.6 423.7 L458.2 420.4 L459.9 412.0 L460.8 410.3 L461.6 420.4 L462.4 434.6 L464.1 432.1 L466.6 427.9 L469.1 430.4 L471.6 432.1 L472.5 435.5 L473.3 418.7 L474.5 409.5 L475.8 407.0 L477.5 415.4 L478.8 417.9 L480.5 410.3 L481.7 403.6 L483.4 403.6 L484.2 415.4 L485.9 432.1 L487.6 452.2 L489.2 476.5 L491.2 476.5 L492.6 458.9 L493.4 449.7 L494.3 462.3 L495.4 476.5 L510.0 476.5 L522.6 476.5 L524.3 445.5 L525.9 405.3 L526.8 420.4 L528.5 452.2 L530.1 428.8 L531.8 408.7 L533.1 390.2 L534.0 386.9 L535.2 402.0 L536.5 413.7 L538.5 417.9 L540.5 418.7 L541.9 423.7 L543.5 417.0 L544.9 416.2 L546.0 423.7 L547.7 433.8 L549.9 441.3 L551.1 436.3 L552.2 430.4 L554.4 432.1 L556.1 443.0 L557.4 433.8 L558.6 455.6 L560.3 445.5 L562.0 428.8 L563.3 476.5 L564.1 445.5 L565.0 427.1 L566.1 435.5 L567.8 417.0 L568.7 435.5 L569.5 445.5 L570.7 417.0 L571.5 414.5 L572.5 432.1 L573.7 452.2 L575.4 476.5 L584.6 476.5 L585.9 467.3 L587.1 476.5 L602.2 476.5 L603.8 453.0 L605.2 476.5 L614.7 476.5 L615.9 444.7 L616.9 462.3 L618.1 476.5 L618.9 443.8 L620.2 476.5 L652.4 476.5 M660.8 476.5 L675.9 476.5 L677.2 448.9 L678.4 415.4 L679.2 409.5 L680.5 412.0 L681.7 438.0 L682.9 438.0 L683.9 400.3 L684.7 387.7 L686.4 388.2 L687.6 408.7 L689.3 422.1 L690.9 417.0 L693.4 416.2 L695.1 414.5 L696.8 415.4 L697.6 395.3 L698.5 394.9 L700.1 402.8 L702.7 412.0 L705.0 421.2 L705.9 422.9 L708.4 425.4 L710.1 435.5 L711.7 445.5 L713.4 450.5 L714.7 443.8 L715.6 420.4 L716.4 403.6 L717.6 405.3 L718.4 445.5 L719.3 476.5 L721.4 476.5 L722.6 445.5 L723.8 412.0 L725.1 400.3 L726.8 402.8 L728.1 417.0 L729.3 445.5 L730.5 476.5 L731.3 462.3 L732.2 433.8 L733.5 430.4 L734.7 400.3 L735.5 395.3 L736.5 415.4 L737.7 445.5 L738.9 425.4 L739.9 417.0 L741.0 428.8 L742.2 452.2 L743.2 476.5 L744.1 476.5 L744.9 428.8 L745.7 395.3 L746.6 398.6 L747.7 428.8 L748.9 476.5 L751.1 476.5 L752.8 445.5 L754.4 412.0 L756.1 380.2 L757.3 378.5 L758.6 412.0 L760.0 476.5 L771.2 476.5 L772.0 428.8 L772.9 385.2 L774.0 384.4 L775.0 428.8 L776.2 476.5 L809.7 476.5 L810.9 462.3 L811.9 454.7 L813.1 469.0 L813.9 476.5 L815.2 476.5 L816.4 453.9 L817.8 436.3 L818.9 462.3 L819.8 476.5 L823.1 476.5 L824.3 445.5 L825.3 425.4 L826.5 445.5 L827.6 476.5 L832.3 476.5 L833.2 428.8 L834.0 402.8 L835.3 403.6 L836.5 405.3 L837.7 415.4 L839.9 422.1 L841.0 403.6 L842.0 393.6 L843.2 412.0 L844.6 436.3 L845.7 395.3 L846.9 374.3 L848.2 386.9 L849.9 408.7 L851.6 414.5 L852.4 395.3 L853.3 363.4 L854.9 362.6 L856.6 373.5 L858.3 408.7 L860.0 398.6 L861.1 412.0 L862.5 424.6 L863.3 378.5 L864.2 346.7 L865.0 343.7 L865.8 355.1 L867.5 354.2 L869.2 363.4 L870.9 371.8 L873.4 376.8 L875.9 385.2 L877.6 384.4 L878.9 372.6 L880.1 378.5 L881.7 398.6 L883.4 420.4 L885.1 432.9 L886.3 412.0 L887.6 378.5 L889.3 365.1 L890.1 375.2 L891.0 412.0 L892.3 402.8 L894.0 403.6 L895.1 412.8 L896.8 410.3 L898.5 417.0 L899.3 395.3 L900.0 353.4 L900.5 353.4 L901.4 338.1 L902.5 361.8 L904.2 386.9 L905.9 403.6 L907.6 398.6 L909.2 368.5 L910.4 370.1 L911.4 372.6 L912.6 353.4 L913.4 347.3 L914.8 345.0 L915.4 358.4 L916.4 385.2 L917.6 390.2 L918.8 375.2 L919.8 364.3 L921.0 371.8 L922.6 379.3 L923.8 380.2 L924.8 355.1 L925.7 350.0 L927.7 352.5 L929.0 366.8 L929.8 381.9 L931.5 371.8 L932.7 370.1 L934.4 372.6 L935.5 386.9 L936.9 436.3 L938.9 437.1 L939.9 400.3 L941.1 373.5 L942.2 365.1 L944.4 363.4 L946.1 351.7 L947.8 338.1 L948.9 376.0 L950.3 361.8 L951.6 341.6 L952.5 335.6 L953.6 361.8 L955.3 376.0 L956.6 365.1 L957.8 344.0 L959.5 345.0 L961.2 366.8 L962.8 383.5 L964.5 394.4 L965.7 394.4 L967.4 381.0 L969.5 366.8 L971.2 376.8 L973.4 388.6 L975.4 392.7 L977.1 390.2 L978.8 381.0 L980.4 368.5 L981.8 386.9 L983.4 395.3 L985.1 381.9 L986.8 382.2 L988.5 381.0 L989.6 361.8 L990.8 342.3 L991.8 322.2 L993.0 311.3 L993.8 340.6 L995.2 344.8 L997.2 347.3 L999.7 354.9 L1000.9 332.3 L1002.2 335.6 L1003.9 315.5 L1005.6 311.3 L1006.9 318.9 L1008.9 335.6 L1011.4 350.7 L1013.1 366.8 L1014.3 376.8 L1015.9 386.9 L1017.6 380.2 L1019.8 378.5 L1021.0 361.8 L1022.0 347.3 L1023.1 350.7 L1024.8 354.0 L1026.5 352.4 L1028.2 369.3 L1029.8 361.8 L1031.5 366.8 L1032.7 376.8 L1034.4 365.1 L1036.0 370.1 L1037.4 377.7 L1038.2 345.0 L1039.1 292.1 L1040.4 272.8 L1041.6 302.1 L1043.2 303.0 L1044.9 312.2 L1046.6 323.9 L1048.3 335.6 L1049.4 339.0 L1050.8 318.9 L1052.1 292.1 L1052.8 275.3 L1054.1 273.6 L1055.5 263.6 L1056.6 275.3 L1058.3 295.4 L1060.0 315.5 L1061.7 328.9 L1064.2 334.8 L1065.0 325.6 L1065.9 316.4 L1067.2 335.6 L1069.2 352.4 L1070.4 361.8 L1071.7 350.0 L1072.6 339.0 L1073.4 320.5 L1074.6 316.4 L1075.6 292.1 L1076.4 284.5 L1077.6 300.4 L1079.3 328.9" stroke="#5500aa"/>
</g>
<text x="120.2" y="502.1" text-anchor="middle" font-size="17.5" fill="#666" textLength="51.6" lengthAdjust="spacingAndGlyphs">00:00</text>
<text x="119.2" y="523.2" text-anchor="middle" font-size="17.5" fill="#666">Jan 26</text>
<text x="191.9" y="502.1" text-anchor="middle" font-size="17.5" fill="#666" textLength="50.0" lengthAdjust="spacingAndGlyphs">12:00</text>
<text x="263.6" y="502.1" text-anchor="middle" font-size="17.5" fill="#666" textLength="51.6" lengthAdjust="spacingAndGlyphs">00:00</text>
<text x="262.6" y="523.2" text-anchor="middle" font-size="17.5" fill="#666">Jan 27</text>
<text x="335.3" y="502.1" text-anchor="middle" font-size="17.5" fill="#666" textLength="50.0" lengthAdjust="spacingAndGlyphs">12:00</text>
<text x="407.1" y="502.1" text-anchor="middle" font-size="17.5" fill="#666" textLength="51.6" lengthAdjust="spacingAndGlyphs">00:00</text>
<text x="406.1" y="523.2" text-anchor="middle" font-size="17.5" fill="#666">Jan 28</text>
<text x="478.8" y="502.1" text-anchor="middle" font-size="17.5" fill="#666" textLength="50.0" lengthAdjust="spacingAndGlyphs">12:00</text>
<text x="550.5" y="502.1" text-anchor="middle" font-size="17.5" fill="#666" textLength="51.6" lengthAdjust="spacingAndGlyphs">00:00</text>
<text x="549.5" y="523.2" text-anchor="middle" font-size="17.5" fill="#666">Jan 29</text>
<text x="622.2" y="502.1" text-anchor="middle" font-size="17.5" fill="#666" textLength="50.0" lengthAdjust="spacingAndGlyphs">12:00</text>
<text x="693.9" y="502.1" text-anchor="middle" font-size="17.5" fill="#666" textLength="51.6" lengthAdjust="spacingAndGlyphs">00:00</text>
<text x="692.9" y="523.2" text-anchor="middle" font-size="17.5" fill="#666">Jan 30</text>
<text x="765.6" y="502.1" text-anchor="middle" font-size="17.5" fill="#666" textLength="50.0" lengthAdjust="spacingAndGlyphs">12:00</text>
<text x="837.3" y="502.1" text-anchor="middle" font-size="17.5" fill="#666" textLength="51.6" lengthAdjust="spacingAndGlyphs">00:00</text>
<text x="836.3" y="523.2" text-anchor="middle" font-size="17.5" fill="#666">Jan 31</text>
<text x="909.1" y="502.1" text-anchor="middle" font-size="17.5" fill="#666" textLength="50.0" lengthAdjust="spacingAndGlyphs">12:00</text>
<text x="980.8" y="502.1" text-anchor="middle" font-size="17.5" fill="#666" textLength="51.6" lengthAdjust="spacingAndGlyphs">00:00</text>
<text x="979.8" y="523.2" text-anchor="middle" font-size="17.5" fill="#666">Feb 1</text>
<text x="1052.5" y="502.1" text-anchor="middle" font-size="17.5" fill="#666" textLength="50.0" lengthAdjust="spacingAndGlyphs">12:00</text>
<text x="1124.2" y="502.1" text-anchor="middle" font-size="17.5" fill="#666" textLength="51.6" lengthAdjust="spacingAndGlyphs">00:00</text>
<text x="1123.2" y="523.2" text-anchor="middle" font-size="17.5" fill="#666">Feb 2</text>
<text x="622.1" y="556.4" text-anchor="middle" font-size="17.3" fill="#666" textLength="128.7" lengthAdjust="spacingAndGlyphs">Universal Time</text>
<line x1="318.0" y1="594.6" x2="333.4" y2="594.6" stroke="#ff0000" stroke-width="2"/>
<text x="339.4" y="599.4" font-size="13.8" fill="#333" stroke="#333" stroke-width="0.35" textLength="98.8" lengthAdjust="spacingAndGlyphs">GOES-18 Long</text>
<line x1="460.3" y1="594.6" x2="475.9" y2="594.6" stroke="#0022ff" stroke-width="2"/>
<text x="481.4" y="599.4" font-size="13.8" fill="#333" stroke="#333" stroke-width="0.35" textLength="101.8" lengthAdjust="spacingAndGlyphs">GOES-18 Short</text>
<line x1="605.0" y1="594.6" x2="620.7" y2="594.6" stroke="#ff9900" stroke-width="2"/>
<text x="626.4" y="599.4" font-size="13.8" fill="#333" stroke="#333" stroke-width="0.35" textLength="99.3" lengthAdjust="spacingAndGlyphs">GOES-19 Long</text>
<line x1="747.5" y1="594.6" x2="762.9" y2="594.6" stroke="#5500aa" stroke-width="2"/>
<text x="768.4" y="599.4" font-size="13.8" fill="#333" stroke="#333" stroke-width="0.35" textLength="101.2" lengthAdjust="spacingAndGlyphs">GOES-19 Short</text>
<text x="26.6" y="617.2" font-size="13.7" fill="#000" stroke="#000" stroke-width="0.45" textLength="224.3" lengthAdjust="spacingAndGlyphs">Updated 2026-02-01 16:31 UTC</text>
<text x="928.4" y="620.6" font-size="14.5" fill="#000" textLength="235.6" lengthAdjust="spacingAndGlyphs">Space Weather Prediction Center</text>
</svg>
<table>
<colgroup><col style="width:76px"><col style="width:168px"><col style="width:51px"><col style="width:214px"></colgroup>
<tr><th colspan="4"><span>GOES-18 LATEST X-RAY EVENT 1-8Å</span></th></tr>
<tr style="height:27px"><td class="b">Current</td><td>01 Feb 2026 16:31:00 GMT</td><td style="padding-left:11px">M1.5</td><td>Ratio 0.082</td></tr>
<tr style="height:27px"><td class="b">Beginning</td><td>01 Feb 2026 15:57:00 GMT</td><td style="padding-left:11px">M1.1</td><td></td></tr>
<tr style="height:30px"><td class="b">Maximum</td><td>01 Feb 2026 16:05:00 GMT</td><td style="padding-left:11px">M5.1</td><td style="padding-top:9px">Integrated flux: 4.4e-2 J m<sup>-2</sup></td></tr>
<tr style="height:27px"><td class="b">End</td><td>01 Feb 2026 16:16:00 GMT</td><td style="padding-left:11px">M3.0</td><td></td></tr>
</table>
<div id="tabs"><div></div></div>
</body></html>
